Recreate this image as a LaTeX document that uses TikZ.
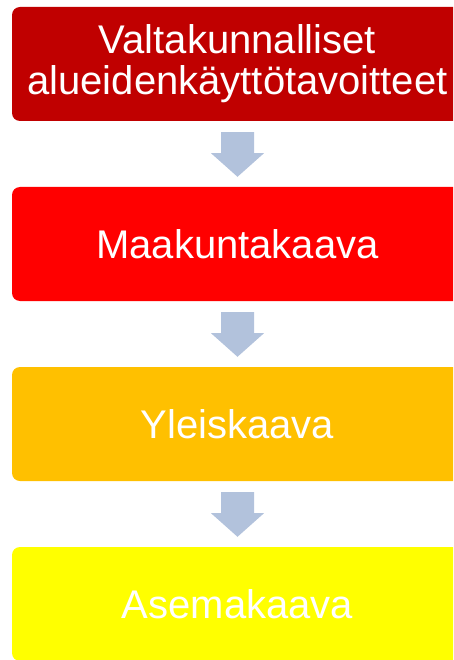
\documentclass[tikz,border=0pt]{standalone}
\usepackage{fontspec}
\setmainfont{Liberation Sans}
\usetikzlibrary{calc}
\definecolor{c1}{HTML}{C00000}
\definecolor{c2}{HTML}{FF0000}
\definecolor{c3}{HTML}{FFC000}
\definecolor{c4}{HTML}{FFFF00}
\definecolor{arrowc}{HTML}{B2C2DC}
\tikzset{
  levelbox/.style={rounded corners=8pt, minimum width=451pt, minimum height=114pt,
    inner sep=0pt, text=white, align=center,
    font=\fontsize{40}{41}\selectfont},
}
\newcommand{\blockarrow}[2]{%
  \fill[arrowc] ($(#1.south)+(-16.5,11)$) -- ($(#1.south)+(16.5,11)$)
    -- ($(#1.south)+(16.5,32)$) -- ($(#1.south)+(26.5,32)$)
    -- ($(#2.north)+(0,-10)$) -- ($(#1.south)+(-26.5,32)$)
    -- ($(#1.south)+(-16.5,32)$) -- cycle;}
\begin{document}
\begin{tikzpicture}[x=1pt,y=-1pt]
\useasboundingbox (0,0) rectangle (453,660);
\clip (0,0) rectangle (453,660);
\node[levelbox, fill=c1] (b1) at (237.5,64) {Valtakunnalliset\\alueidenkäyttötavoitteet};
\node[levelbox, fill=c2] (b2) at (237.5,244) {Maakuntakaava};
\node[levelbox, fill=c3] (b3) at (237.5,424) {Yleiskaava};
\node[levelbox, fill=c4] (b4) at (237.5,604) {Asemakaava};
\blockarrow{b1}{b2}
\blockarrow{b2}{b3}
\blockarrow{b3}{b4}
\end{tikzpicture}
\end{document}
